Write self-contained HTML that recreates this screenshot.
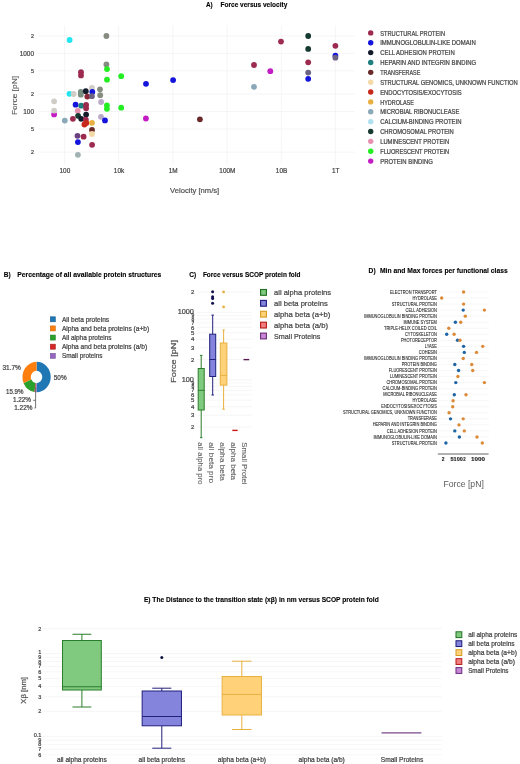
<!DOCTYPE html>
<html><head><meta charset="utf-8"><style>
html,body{margin:0;padding:0;background:#fff;}
body{width:520px;height:764px;overflow:hidden;}
svg{display:block;font-family:"Liberation Sans", sans-serif;will-change:transform;}
</style></head><body>
<svg width="520" height="764" viewBox="0 0 520 764">
<rect width="520" height="764" fill="#fff"/>
<text x="206.00" y="7.20" font-size="7.2" fill="#000" font-weight="bold" stroke="#000" stroke-width="0.12" textLength="6.70" lengthAdjust="spacingAndGlyphs">A)</text>
<text x="220.50" y="7.20" font-size="7.2" fill="#000" font-weight="bold" stroke="#000" stroke-width="0.12" textLength="66.80" lengthAdjust="spacingAndGlyphs">Force versus velocity</text>
<line x1="38" y1="35.91" x2="354.6" y2="35.91" stroke="#f2f2f2" stroke-width="0.8"/>
<line x1="38" y1="53.40" x2="354.6" y2="53.40" stroke="#f2f2f2" stroke-width="0.8"/>
<line x1="38" y1="70.89" x2="354.6" y2="70.89" stroke="#f2f2f2" stroke-width="0.8"/>
<line x1="38" y1="94.01" x2="354.6" y2="94.01" stroke="#f2f2f2" stroke-width="0.8"/>
<line x1="38" y1="111.50" x2="354.6" y2="111.50" stroke="#f2f2f2" stroke-width="0.8"/>
<line x1="38" y1="128.99" x2="354.6" y2="128.99" stroke="#f2f2f2" stroke-width="0.8"/>
<line x1="38" y1="152.11" x2="354.6" y2="152.11" stroke="#f2f2f2" stroke-width="0.8"/>
<line x1="64.60" y1="25.4" x2="64.60" y2="164" stroke="#f2f2f2" stroke-width="0.8"/>
<line x1="118.76" y1="25.4" x2="118.76" y2="164" stroke="#f2f2f2" stroke-width="0.8"/>
<line x1="172.92" y1="25.4" x2="172.92" y2="164" stroke="#f2f2f2" stroke-width="0.8"/>
<line x1="227.08" y1="25.4" x2="227.08" y2="164" stroke="#f2f2f2" stroke-width="0.8"/>
<line x1="281.24" y1="25.4" x2="281.24" y2="164" stroke="#f2f2f2" stroke-width="0.8"/>
<line x1="335.40" y1="25.4" x2="335.40" y2="164" stroke="#f2f2f2" stroke-width="0.8"/>
<text x="34.00" y="37.91" font-size="5.6" fill="#444" text-anchor="end" stroke="#444" stroke-width="0.22" textLength="2.96" lengthAdjust="spacingAndGlyphs">2</text>
<text x="34.00" y="55.95" font-size="7" fill="#444" text-anchor="end" stroke="#444" stroke-width="0.22" textLength="14.32" lengthAdjust="spacingAndGlyphs">1000</text>
<text x="34.00" y="72.89" font-size="5.6" fill="#444" text-anchor="end" stroke="#444" stroke-width="0.22" textLength="2.96" lengthAdjust="spacingAndGlyphs">5</text>
<text x="34.00" y="96.01" font-size="5.6" fill="#444" text-anchor="end" stroke="#444" stroke-width="0.22" textLength="2.96" lengthAdjust="spacingAndGlyphs">2</text>
<text x="34.00" y="114.05" font-size="7" fill="#444" text-anchor="end" stroke="#444" stroke-width="0.22" textLength="10.74" lengthAdjust="spacingAndGlyphs">100</text>
<text x="34.00" y="130.99" font-size="5.6" fill="#444" text-anchor="end" stroke="#444" stroke-width="0.22" textLength="2.96" lengthAdjust="spacingAndGlyphs">5</text>
<text x="34.00" y="154.11" font-size="5.6" fill="#444" text-anchor="end" stroke="#444" stroke-width="0.22" textLength="2.96" lengthAdjust="spacingAndGlyphs">2</text>
<text x="64.90" y="173.10" font-size="7" fill="#444" text-anchor="middle" stroke="#444" stroke-width="0.22" textLength="10.74" lengthAdjust="spacingAndGlyphs">100</text>
<text x="119.06" y="173.10" font-size="7" fill="#444" text-anchor="middle" stroke="#444" stroke-width="0.22" textLength="10.38" lengthAdjust="spacingAndGlyphs">10k</text>
<text x="173.22" y="173.10" font-size="7" fill="#444" text-anchor="middle" stroke="#444" stroke-width="0.22" textLength="8.95" lengthAdjust="spacingAndGlyphs">1M</text>
<text x="227.38" y="173.10" font-size="7" fill="#444" text-anchor="middle" stroke="#444" stroke-width="0.22" textLength="16.11" lengthAdjust="spacingAndGlyphs">100M</text>
<text x="281.54" y="173.10" font-size="7" fill="#444" text-anchor="middle" stroke="#444" stroke-width="0.22" textLength="11.46" lengthAdjust="spacingAndGlyphs">10B</text>
<text x="335.70" y="173.10" font-size="7" fill="#444" text-anchor="middle" stroke="#444" stroke-width="0.22" textLength="7.51" lengthAdjust="spacingAndGlyphs">1T</text>
<text x="170.10" y="193.20" font-size="7.5" fill="#555" stroke="#555" stroke-width="0.22" textLength="49.10" lengthAdjust="spacingAndGlyphs">Velocity [nm/s]</text>
<text x="0" y="0" font-size="7.3" fill="#555" stroke="#555" stroke-width="0.1" textLength="39.20" lengthAdjust="spacingAndGlyphs" transform="translate(17.10,115.10) rotate(-90)">Force [pN]</text>
<circle cx="54.1" cy="114.4" r="2.9" fill="#c41cc4"/>
<circle cx="54.1" cy="101.3" r="2.9" fill="#d0ccc6"/>
<circle cx="54.1" cy="110.6" r="2.9" fill="#d0ccc6"/>
<circle cx="69.6" cy="40" r="2.9" fill="#22e5f0"/>
<circle cx="106.4" cy="36" r="2.9" fill="#868b80"/>
<circle cx="106.4" cy="64.5" r="2.9" fill="#868b80"/>
<circle cx="107" cy="69.1" r="2.9" fill="#22ee22"/>
<circle cx="107" cy="79.7" r="2.9" fill="#22ee22"/>
<circle cx="121.2" cy="76.2" r="2.9" fill="#22ee22"/>
<circle cx="81" cy="72.2" r="2.9" fill="#9c2b4f"/>
<circle cx="81" cy="75.4" r="2.9" fill="#9c2b4f"/>
<circle cx="69.4" cy="93.8" r="2.9" fill="#22e5f0"/>
<circle cx="73.6" cy="94" r="2.9" fill="#d0ccc6"/>
<circle cx="80.8" cy="92" r="2.9" fill="#7a8e82"/>
<circle cx="80.8" cy="94.7" r="2.9" fill="#7a8e82"/>
<circle cx="85.8" cy="91.2" r="2.9" fill="#141c2c"/>
<circle cx="87.3" cy="96.6" r="2.9" fill="#8a2838"/>
<circle cx="91.9" cy="87.8" r="2.9" fill="#d0ccc6"/>
<circle cx="92.3" cy="92" r="2.9" fill="#1414dc"/>
<circle cx="91.9" cy="96.2" r="2.9" fill="#6c6282"/>
<circle cx="100" cy="89.3" r="2.9" fill="#868b80"/>
<circle cx="100.2" cy="95.2" r="2.9" fill="#868b80"/>
<circle cx="101.1" cy="102" r="2.9" fill="#b8aac8"/>
<circle cx="106.9" cy="105.3" r="2.9" fill="#22ee22"/>
<circle cx="106.9" cy="108.8" r="2.9" fill="#22ee22"/>
<circle cx="121.2" cy="107.7" r="2.9" fill="#22ee22"/>
<circle cx="75.6" cy="104.7" r="2.9" fill="#1414dc"/>
<circle cx="81.2" cy="105.7" r="2.9" fill="#1f7f7f"/>
<circle cx="86.1" cy="105" r="2.9" fill="#9c2b4f"/>
<circle cx="86.1" cy="108.3" r="2.9" fill="#9c2b4f"/>
<circle cx="77.7" cy="110.8" r="2.9" fill="#e890b0"/>
<circle cx="78.1" cy="115.8" r="2.9" fill="#163a30"/>
<circle cx="86.1" cy="114.6" r="2.9" fill="#141c2c"/>
<circle cx="81.2" cy="118.8" r="2.9" fill="#141c2c"/>
<circle cx="85.8" cy="119.6" r="2.9" fill="#9c2b4f"/>
<circle cx="86.3" cy="123" r="2.9" fill="#c8281c"/>
<circle cx="84.4" cy="124.5" r="2.9" fill="#c8281c"/>
<circle cx="92" cy="122.8" r="2.9" fill="#e8b040"/>
<circle cx="92" cy="130" r="2.9" fill="#6b2a2a"/>
<circle cx="92" cy="134" r="2.9" fill="#f2d9a6"/>
<circle cx="64.8" cy="120.6" r="2.9" fill="#8aa8b8"/>
<circle cx="72.9" cy="118.8" r="2.9" fill="#9c2b4f"/>
<circle cx="101" cy="116.8" r="2.9" fill="#b8aac8"/>
<circle cx="105" cy="120.4" r="2.9" fill="#1414dc"/>
<circle cx="77.5" cy="135.8" r="2.9" fill="#6a4080"/>
<circle cx="83.6" cy="136.7" r="2.9" fill="#9c2b4f"/>
<circle cx="77.9" cy="142.1" r="2.9" fill="#1414dc"/>
<circle cx="92.1" cy="144.8" r="2.9" fill="#9c2b4f"/>
<circle cx="77.9" cy="154.8" r="2.9" fill="#a0b2b2"/>
<circle cx="146" cy="83.8" r="2.9" fill="#1414dc"/>
<circle cx="173.1" cy="80.1" r="2.9" fill="#1414dc"/>
<circle cx="254" cy="65" r="2.9" fill="#9c2b4f"/>
<circle cx="270.3" cy="71.2" r="2.9" fill="#c41cc4"/>
<circle cx="254" cy="86.8" r="2.9" fill="#8aa8b8"/>
<circle cx="281" cy="41.6" r="2.9" fill="#9c2b4f"/>
<circle cx="308.2" cy="36" r="2.9" fill="#163a30"/>
<circle cx="308.2" cy="48.9" r="2.9" fill="#163a30"/>
<circle cx="308.2" cy="62.3" r="2.9" fill="#9c2b4f"/>
<circle cx="308.2" cy="72.6" r="2.9" fill="#6c6282"/>
<circle cx="308.2" cy="78.8" r="2.9" fill="#1414dc"/>
<circle cx="335.4" cy="45.8" r="2.9" fill="#9c2b4f"/>
<circle cx="335.4" cy="55.7" r="2.9" fill="#1414dc"/>
<circle cx="335.4" cy="57.7" r="2.9" fill="#6c6282"/>
<circle cx="145.9" cy="118.5" r="2.9" fill="#c41cc4"/>
<circle cx="199.9" cy="119.3" r="2.9" fill="#6b2a2a"/>
<circle cx="370.7" cy="32.90" r="2.7" fill="#9c2b4f"/>
<text x="380.20" y="35.60" font-size="6.5" fill="#444" stroke="#444" stroke-width="0.22" textLength="64.80" lengthAdjust="spacingAndGlyphs">STRUCTURAL PROTEIN</text>
<circle cx="370.7" cy="42.76" r="2.7" fill="#1414dc"/>
<text x="380.20" y="45.46" font-size="6.5" fill="#444" stroke="#444" stroke-width="0.22" textLength="95.50" lengthAdjust="spacingAndGlyphs">IMMUNOGLOBULIN-LIKE DOMAIN</text>
<circle cx="370.7" cy="52.62" r="2.7" fill="#141c2c"/>
<text x="380.20" y="55.32" font-size="6.5" fill="#444" stroke="#444" stroke-width="0.22" textLength="74.50" lengthAdjust="spacingAndGlyphs">CELL ADHESION PROTEIN</text>
<circle cx="370.7" cy="62.48" r="2.7" fill="#1f7f7f"/>
<text x="380.20" y="65.18" font-size="6.5" fill="#444" stroke="#444" stroke-width="0.22" textLength="96.00" lengthAdjust="spacingAndGlyphs">HEPARIN AND INTEGRIN BINDING</text>
<circle cx="370.7" cy="72.34" r="2.7" fill="#6b2a2a"/>
<text x="380.20" y="75.04" font-size="6.5" fill="#444" stroke="#444" stroke-width="0.22" textLength="40.10" lengthAdjust="spacingAndGlyphs">TRANSFERASE</text>
<circle cx="370.7" cy="82.20" r="2.7" fill="#f2d9a6"/>
<text x="380.20" y="84.90" font-size="6.5" fill="#444" stroke="#444" stroke-width="0.22" textLength="137.60" lengthAdjust="spacingAndGlyphs">STRUCTURAL GENOMICS, UNKNOWN FUNCTION</text>
<circle cx="370.7" cy="92.06" r="2.7" fill="#c8281c"/>
<text x="380.20" y="94.76" font-size="6.5" fill="#444" stroke="#444" stroke-width="0.22" textLength="81.50" lengthAdjust="spacingAndGlyphs">ENDOCYTOSIS/EXOCYTOSIS</text>
<circle cx="370.7" cy="101.92" r="2.7" fill="#e8b040"/>
<text x="380.20" y="104.62" font-size="6.5" fill="#444" stroke="#444" stroke-width="0.22" textLength="33.70" lengthAdjust="spacingAndGlyphs">HYDROLASE</text>
<circle cx="370.7" cy="111.78" r="2.7" fill="#8aa8b8"/>
<text x="380.20" y="114.48" font-size="6.5" fill="#444" stroke="#444" stroke-width="0.22" textLength="79.20" lengthAdjust="spacingAndGlyphs">MICROBIAL RIBONUCLEASE</text>
<circle cx="370.7" cy="121.64" r="2.7" fill="#b0e0ee"/>
<text x="380.20" y="124.34" font-size="6.5" fill="#444" stroke="#444" stroke-width="0.22" textLength="81.30" lengthAdjust="spacingAndGlyphs">CALCIUM-BINDING PROTEIN</text>
<circle cx="370.7" cy="131.50" r="2.7" fill="#163a30"/>
<text x="380.20" y="134.20" font-size="6.5" fill="#444" stroke="#444" stroke-width="0.22" textLength="73.60" lengthAdjust="spacingAndGlyphs">CHROMOSOMAL PROTEIN</text>
<circle cx="370.7" cy="141.36" r="2.7" fill="#e890b0"/>
<text x="380.20" y="144.06" font-size="6.5" fill="#444" stroke="#444" stroke-width="0.22" textLength="69.00" lengthAdjust="spacingAndGlyphs">LUMINESCENT PROTEIN</text>
<circle cx="370.7" cy="151.22" r="2.7" fill="#22ee22"/>
<text x="380.20" y="153.92" font-size="6.5" fill="#444" stroke="#444" stroke-width="0.22" textLength="69.00" lengthAdjust="spacingAndGlyphs">FLUORESCENT PROTEIN</text>
<circle cx="370.7" cy="161.08" r="2.7" fill="#c41cc4"/>
<text x="380.20" y="163.78" font-size="6.5" fill="#444" stroke="#444" stroke-width="0.22" textLength="52.70" lengthAdjust="spacingAndGlyphs">PROTEIN BINDING</text>
<text x="3.80" y="276.80" font-size="7.2" fill="#000" font-weight="bold" stroke="#000" stroke-width="0.12" textLength="6.90" lengthAdjust="spacingAndGlyphs">B)</text>
<text x="17.30" y="276.80" font-size="7.2" fill="#000" font-weight="bold" stroke="#000" stroke-width="0.12" textLength="144.00" lengthAdjust="spacingAndGlyphs">Percentage of all available protein structures</text>
<rect x="50.3" y="316.80" width="5" height="5" fill="#1f77b4" stroke="#1a5f90" stroke-width="0.6"/>
<text x="61.90" y="321.60" font-size="6.5" fill="#444" stroke="#444" stroke-width="0.22" textLength="47.20" lengthAdjust="spacingAndGlyphs">All beta proteins</text>
<rect x="50.3" y="325.93" width="5" height="5" fill="#ff7f0e" stroke="#d06a10" stroke-width="0.6"/>
<text x="61.90" y="330.73" font-size="6.5" fill="#444" stroke="#444" stroke-width="0.22" textLength="87.30" lengthAdjust="spacingAndGlyphs">Alpha and beta proteins (a+b)</text>
<rect x="50.3" y="335.06" width="5" height="5" fill="#2ca02c" stroke="#23802a" stroke-width="0.6"/>
<text x="61.90" y="339.86" font-size="6.5" fill="#444" stroke="#444" stroke-width="0.22" textLength="49.70" lengthAdjust="spacingAndGlyphs">All alpha proteins</text>
<rect x="50.3" y="344.19" width="5" height="5" fill="#d62728" stroke="#a82020" stroke-width="0.6"/>
<text x="61.90" y="348.99" font-size="6.5" fill="#444" stroke="#444" stroke-width="0.22" textLength="85.20" lengthAdjust="spacingAndGlyphs">Alpha and beta proteins (a/b)</text>
<rect x="50.3" y="353.32" width="5" height="5" fill="#9467bd" stroke="#7a55a0" stroke-width="0.6"/>
<text x="61.90" y="358.12" font-size="6.5" fill="#444" stroke="#444" stroke-width="0.22" textLength="40.60" lengthAdjust="spacingAndGlyphs">Small proteins</text>
<g transform="translate(36.55,377) scale(1,1.074)">
<path d="M0.00,14.15 A14.15,14.15 0 0 0 0.00,-14.15 L0.00,-5.75 A5.75,5.75 0 0 1 0.00,5.75 Z" fill="#1f77b4"/>
<path d="M0.00,-14.15 A14.15,14.15 0 0 0 -12.91,5.78 L-5.25,2.35 A5.75,5.75 0 0 1 0.00,-5.75 Z" fill="#ff7f0e"/>
<path d="M-12.91,5.78 A14.15,14.15 0 0 0 -2.13,13.99 L-0.86,5.68 A5.75,5.75 0 0 1 -5.25,2.35 Z" fill="#2ca02c"/>
<path d="M-2.13,13.99 A14.15,14.15 0 0 0 -1.05,14.11 L-0.43,5.73 A5.75,5.75 0 0 1 -0.86,5.68 Z" fill="#d62728"/>
<path d="M-1.05,14.11 A14.15,14.15 0 0 0 0.04,14.15 L0.01,5.75 A5.75,5.75 0 0 1 -0.43,5.73 Z" fill="#9467bd"/>
</g>
<text x="2.40" y="370.10" font-size="6.4" fill="#444" stroke="#444" stroke-width="0.22" textLength="18.50" lengthAdjust="spacingAndGlyphs">31.7%</text>
<text x="53.80" y="379.90" font-size="6.4" fill="#444" stroke="#444" stroke-width="0.22" textLength="12.80" lengthAdjust="spacingAndGlyphs">50%</text>
<text x="6.10" y="394.00" font-size="6.4" fill="#444" stroke="#444" stroke-width="0.22" textLength="17.40" lengthAdjust="spacingAndGlyphs">15.9%</text>
<text x="13.00" y="402.10" font-size="6.4" fill="#444" stroke="#444" stroke-width="0.22" textLength="18.00" lengthAdjust="spacingAndGlyphs">1.22%</text>
<text x="14.30" y="409.80" font-size="6.4" fill="#444" stroke="#444" stroke-width="0.22" textLength="18.10" lengthAdjust="spacingAndGlyphs">1.22%</text>
<path d="M35.6,388 L35.6,408 L34.3,408 M35.6,400.3 L33.2,400.3" stroke="#666" stroke-width="0.9" fill="none"/>
<text x="189.20" y="277.10" font-size="7.2" fill="#000" font-weight="bold" stroke="#000" stroke-width="0.12" textLength="6.90" lengthAdjust="spacingAndGlyphs">C)</text>
<text x="202.90" y="277.10" font-size="7.2" fill="#000" font-weight="bold" stroke="#000" stroke-width="0.12" textLength="97.60" lengthAdjust="spacingAndGlyphs">Force versus SCOP protein fold</text>
<line x1="197" y1="292.08" x2="252" y2="292.08" stroke="#f2f2f2" stroke-width="0.7"/>
<line x1="197" y1="312.40" x2="252" y2="312.40" stroke="#f2f2f2" stroke-width="0.7"/>
<line x1="197" y1="315.49" x2="252" y2="315.49" stroke="#f2f2f2" stroke-width="0.7"/>
<line x1="197" y1="318.94" x2="252" y2="318.94" stroke="#f2f2f2" stroke-width="0.7"/>
<line x1="197" y1="322.86" x2="252" y2="322.86" stroke="#f2f2f2" stroke-width="0.7"/>
<line x1="197" y1="327.37" x2="252" y2="327.37" stroke="#f2f2f2" stroke-width="0.7"/>
<line x1="197" y1="332.72" x2="252" y2="332.72" stroke="#f2f2f2" stroke-width="0.7"/>
<line x1="197" y1="339.26" x2="252" y2="339.26" stroke="#f2f2f2" stroke-width="0.7"/>
<line x1="197" y1="347.69" x2="252" y2="347.69" stroke="#f2f2f2" stroke-width="0.7"/>
<line x1="197" y1="359.58" x2="252" y2="359.58" stroke="#f2f2f2" stroke-width="0.7"/>
<line x1="197" y1="379.90" x2="252" y2="379.90" stroke="#f2f2f2" stroke-width="0.7"/>
<line x1="197" y1="382.99" x2="252" y2="382.99" stroke="#f2f2f2" stroke-width="0.7"/>
<line x1="197" y1="386.44" x2="252" y2="386.44" stroke="#f2f2f2" stroke-width="0.7"/>
<line x1="197" y1="390.36" x2="252" y2="390.36" stroke="#f2f2f2" stroke-width="0.7"/>
<line x1="197" y1="394.87" x2="252" y2="394.87" stroke="#f2f2f2" stroke-width="0.7"/>
<line x1="197" y1="400.22" x2="252" y2="400.22" stroke="#f2f2f2" stroke-width="0.7"/>
<line x1="197" y1="406.76" x2="252" y2="406.76" stroke="#f2f2f2" stroke-width="0.7"/>
<line x1="197" y1="415.19" x2="252" y2="415.19" stroke="#f2f2f2" stroke-width="0.7"/>
<line x1="197" y1="427.08" x2="252" y2="427.08" stroke="#f2f2f2" stroke-width="0.7"/>
<text x="194.40" y="294.24" font-size="6" fill="#444" text-anchor="end" stroke="#444" stroke-width="0.22">2</text>
<text x="193.90" y="314.03" font-size="7.3" fill="#444" text-anchor="end" stroke="#444" stroke-width="0.22">1000</text>
<text x="194.40" y="317.29" font-size="5" fill="#444" text-anchor="end" stroke="#444" stroke-width="0.22">9</text>
<text x="194.40" y="320.74" font-size="5" fill="#444" text-anchor="end" stroke="#444" stroke-width="0.22">8</text>
<text x="194.40" y="324.66" font-size="5" fill="#444" text-anchor="end" stroke="#444" stroke-width="0.22">7</text>
<text x="194.40" y="329.53" font-size="6" fill="#444" text-anchor="end" stroke="#444" stroke-width="0.22">6</text>
<text x="194.40" y="334.88" font-size="6" fill="#444" text-anchor="end" stroke="#444" stroke-width="0.22">5</text>
<text x="194.40" y="341.42" font-size="6" fill="#444" text-anchor="end" stroke="#444" stroke-width="0.22">4</text>
<text x="194.40" y="349.85" font-size="6" fill="#444" text-anchor="end" stroke="#444" stroke-width="0.22">3</text>
<text x="194.40" y="361.74" font-size="6" fill="#444" text-anchor="end" stroke="#444" stroke-width="0.22">2</text>
<text x="193.90" y="381.53" font-size="7.3" fill="#444" text-anchor="end" stroke="#444" stroke-width="0.22">100</text>
<text x="194.40" y="384.79" font-size="5" fill="#444" text-anchor="end" stroke="#444" stroke-width="0.22">9</text>
<text x="194.40" y="388.24" font-size="5" fill="#444" text-anchor="end" stroke="#444" stroke-width="0.22">8</text>
<text x="194.40" y="392.16" font-size="5" fill="#444" text-anchor="end" stroke="#444" stroke-width="0.22">7</text>
<text x="194.40" y="397.03" font-size="6" fill="#444" text-anchor="end" stroke="#444" stroke-width="0.22">6</text>
<text x="194.40" y="402.38" font-size="6" fill="#444" text-anchor="end" stroke="#444" stroke-width="0.22">5</text>
<text x="194.40" y="408.92" font-size="6" fill="#444" text-anchor="end" stroke="#444" stroke-width="0.22">4</text>
<text x="194.40" y="417.35" font-size="6" fill="#444" text-anchor="end" stroke="#444" stroke-width="0.22">3</text>
<text x="194.40" y="429.24" font-size="6" fill="#444" text-anchor="end" stroke="#444" stroke-width="0.22">2</text>
<text x="0" y="0" font-size="7.5" fill="#555" stroke="#555" stroke-width="0.22" textLength="42.80" lengthAdjust="spacingAndGlyphs" transform="translate(175.80,382.80) rotate(-90)">Force [pN]</text>
<line x1="201.2" y1="355.4" x2="201.2" y2="368.5" stroke="#2a7d2a" stroke-width="1"/>
<line x1="201.2" y1="410" x2="201.2" y2="437.7" stroke="#2a7d2a" stroke-width="1"/>
<line x1="199.95" y1="355.4" x2="202.45" y2="355.4" stroke="#2a7d2a" stroke-width="1"/>
<line x1="199.95" y1="437.7" x2="202.45" y2="437.7" stroke="#2a7d2a" stroke-width="1"/>
<rect x="198.2" y="368.5" width="6" height="41.5" fill="#80ca80" stroke="#2a7d2a" stroke-width="1"/>
<line x1="198.2" y1="390.3" x2="204.2" y2="390.3" stroke="#2a7d2a" stroke-width="1"/>
<line x1="212.7" y1="315.1" x2="212.7" y2="334.2" stroke="#20207e" stroke-width="1"/>
<line x1="212.7" y1="376.5" x2="212.7" y2="395" stroke="#20207e" stroke-width="1"/>
<line x1="211.45" y1="315.1" x2="213.95" y2="315.1" stroke="#20207e" stroke-width="1"/>
<line x1="211.45" y1="395" x2="213.95" y2="395" stroke="#20207e" stroke-width="1"/>
<rect x="209.7" y="334.2" width="6" height="42.30000000000001" fill="#8484dc" stroke="#20207e" stroke-width="1"/>
<line x1="209.7" y1="359.5" x2="215.7" y2="359.5" stroke="#20207e" stroke-width="1"/>
<line x1="223.6" y1="330" x2="223.6" y2="343" stroke="#e8b040" stroke-width="1"/>
<line x1="223.6" y1="385.1" x2="223.6" y2="409.2" stroke="#e8b040" stroke-width="1"/>
<line x1="222.35" y1="330" x2="224.85" y2="330" stroke="#e8b040" stroke-width="1"/>
<line x1="222.35" y1="409.2" x2="224.85" y2="409.2" stroke="#e8b040" stroke-width="1"/>
<rect x="220.29999999999998" y="343" width="6.6" height="42.10000000000002" fill="#ffd27a" stroke="#e8b040" stroke-width="1"/>
<line x1="220.29999999999998" y1="375.4" x2="226.89999999999998" y2="375.4" stroke="#e8b040" stroke-width="1"/>
<circle cx="212.6" cy="291.8" r="1.5" fill="#101050"/>
<circle cx="212.6" cy="296.8" r="1.5" fill="#101050"/>
<circle cx="212.6" cy="298.5" r="1.5" fill="#101050"/>
<circle cx="212.6" cy="303.2" r="1.5" fill="#101050"/>
<circle cx="223.6" cy="291.9" r="1.4" fill="#e8b040"/>
<circle cx="223.6" cy="306.9" r="1.4" fill="#e8b040"/>
<line x1="232.3" y1="430.4" x2="237.7" y2="430.4" stroke="#c81818" stroke-width="1.4"/>
<line x1="243.5" y1="359.6" x2="249.2" y2="359.6" stroke="#5a1a50" stroke-width="1.4"/>
<text x="0" y="0" font-size="7.4" fill="#606060" stroke="#606060" stroke-width="0.1" textLength="42.30" lengthAdjust="spacingAndGlyphs" transform="translate(198.10,442.30) rotate(90)">all alpha pro</text>
<text x="0" y="0" font-size="7.4" fill="#606060" stroke="#606060" stroke-width="0.1" textLength="40.70" lengthAdjust="spacingAndGlyphs" transform="translate(208.80,442.30) rotate(90)">all beta pro</text>
<text x="0" y="0" font-size="7.4" fill="#606060" stroke="#606060" stroke-width="0.1" textLength="38.50" lengthAdjust="spacingAndGlyphs" transform="translate(220.00,442.30) rotate(90)">alpha beta</text>
<text x="0" y="0" font-size="7.4" fill="#606060" stroke="#606060" stroke-width="0.1" textLength="37.70" lengthAdjust="spacingAndGlyphs" transform="translate(231.20,442.30) rotate(90)">alpha beta</text>
<text x="0" y="0" font-size="7.4" fill="#606060" stroke="#606060" stroke-width="0.1" textLength="42.30" lengthAdjust="spacingAndGlyphs" transform="translate(242.30,442.30) rotate(90)">Small Protei</text>
<rect x="260.6" y="289.50" width="5.8" height="5.8" fill="#80ca80" stroke="#1e6e1e" stroke-width="1.1"/>
<text x="274.00" y="295.20" font-size="7.8" fill="#444" stroke="#444" stroke-width="0.22" textLength="57.10" lengthAdjust="spacingAndGlyphs">all alpha proteins</text>
<rect x="260.6" y="300.40" width="5.8" height="5.8" fill="#8484dc" stroke="#1a1a7a" stroke-width="1.1"/>
<text x="274.00" y="306.10" font-size="7.8" fill="#444" stroke="#444" stroke-width="0.22" textLength="53.70" lengthAdjust="spacingAndGlyphs">all beta proteins</text>
<rect x="260.6" y="311.30" width="5.8" height="5.8" fill="#ffd27a" stroke="#d89a20" stroke-width="1.1"/>
<text x="274.00" y="317.00" font-size="7.8" fill="#444" stroke="#444" stroke-width="0.22" textLength="56.30" lengthAdjust="spacingAndGlyphs">alpha beta (a+b)</text>
<rect x="260.6" y="322.20" width="5.8" height="5.8" fill="#f08080" stroke="#b81818" stroke-width="1.1"/>
<text x="274.00" y="327.90" font-size="7.8" fill="#444" stroke="#444" stroke-width="0.22" textLength="54.00" lengthAdjust="spacingAndGlyphs">alpha beta (a/b)</text>
<rect x="260.6" y="333.10" width="5.8" height="5.8" fill="#c888d8" stroke="#6a2a7a" stroke-width="1.1"/>
<text x="274.00" y="338.80" font-size="7.8" fill="#444" stroke="#444" stroke-width="0.22" textLength="46.40" lengthAdjust="spacingAndGlyphs">Small Proteins</text>
<text x="368.60" y="272.80" font-size="7.4" fill="#000" font-weight="bold" stroke="#000" stroke-width="0.12" textLength="7.00" lengthAdjust="spacingAndGlyphs">D)</text>
<text x="380.00" y="272.80" font-size="7.4" fill="#000" font-weight="bold" stroke="#000" stroke-width="0.12" textLength="127.70" lengthAdjust="spacingAndGlyphs">Min and Max forces per functional class</text>
<line x1="439" y1="292.00" x2="489" y2="292.00" stroke="#f2f2f2" stroke-width="0.6"/>
<line x1="439" y1="298.04" x2="489" y2="298.04" stroke="#f2f2f2" stroke-width="0.6"/>
<line x1="439" y1="304.08" x2="489" y2="304.08" stroke="#f2f2f2" stroke-width="0.6"/>
<line x1="439" y1="310.12" x2="489" y2="310.12" stroke="#f2f2f2" stroke-width="0.6"/>
<line x1="439" y1="316.16" x2="489" y2="316.16" stroke="#f2f2f2" stroke-width="0.6"/>
<line x1="439" y1="322.20" x2="489" y2="322.20" stroke="#f2f2f2" stroke-width="0.6"/>
<line x1="439" y1="328.24" x2="489" y2="328.24" stroke="#f2f2f2" stroke-width="0.6"/>
<line x1="439" y1="334.28" x2="489" y2="334.28" stroke="#f2f2f2" stroke-width="0.6"/>
<line x1="439" y1="340.32" x2="489" y2="340.32" stroke="#f2f2f2" stroke-width="0.6"/>
<line x1="439" y1="346.36" x2="489" y2="346.36" stroke="#f2f2f2" stroke-width="0.6"/>
<line x1="439" y1="352.40" x2="489" y2="352.40" stroke="#f2f2f2" stroke-width="0.6"/>
<line x1="439" y1="358.44" x2="489" y2="358.44" stroke="#f2f2f2" stroke-width="0.6"/>
<line x1="439" y1="364.48" x2="489" y2="364.48" stroke="#f2f2f2" stroke-width="0.6"/>
<line x1="439" y1="370.52" x2="489" y2="370.52" stroke="#f2f2f2" stroke-width="0.6"/>
<line x1="439" y1="376.56" x2="489" y2="376.56" stroke="#f2f2f2" stroke-width="0.6"/>
<line x1="439" y1="382.60" x2="489" y2="382.60" stroke="#f2f2f2" stroke-width="0.6"/>
<line x1="439" y1="388.64" x2="489" y2="388.64" stroke="#f2f2f2" stroke-width="0.6"/>
<line x1="439" y1="394.68" x2="489" y2="394.68" stroke="#f2f2f2" stroke-width="0.6"/>
<line x1="439" y1="400.72" x2="489" y2="400.72" stroke="#f2f2f2" stroke-width="0.6"/>
<line x1="439" y1="406.76" x2="489" y2="406.76" stroke="#f2f2f2" stroke-width="0.6"/>
<line x1="439" y1="412.80" x2="489" y2="412.80" stroke="#f2f2f2" stroke-width="0.6"/>
<line x1="439" y1="418.84" x2="489" y2="418.84" stroke="#f2f2f2" stroke-width="0.6"/>
<line x1="439" y1="424.88" x2="489" y2="424.88" stroke="#f2f2f2" stroke-width="0.6"/>
<line x1="439" y1="430.92" x2="489" y2="430.92" stroke="#f2f2f2" stroke-width="0.6"/>
<line x1="439" y1="436.96" x2="489" y2="436.96" stroke="#f2f2f2" stroke-width="0.6"/>
<line x1="439" y1="443.00" x2="489" y2="443.00" stroke="#f2f2f2" stroke-width="0.6"/>
<text x="436.90" y="293.60" font-size="4.5" fill="#222" text-anchor="end" stroke="#222" stroke-width="0.08" textLength="46.94" lengthAdjust="spacingAndGlyphs">ELECTRON TRANSPORT</text>
<circle cx="463.6" cy="292.00" r="1.7" fill="#dc8a38"/>
<text x="436.90" y="299.64" font-size="4.5" fill="#222" text-anchor="end" stroke="#222" stroke-width="0.08" textLength="24.43" lengthAdjust="spacingAndGlyphs">HYDROLASE</text>
<circle cx="441.7" cy="298.04" r="1.7" fill="#dc8a38"/>
<text x="436.90" y="305.68" font-size="4.5" fill="#222" text-anchor="end" stroke="#222" stroke-width="0.08" textLength="45.18" lengthAdjust="spacingAndGlyphs">STRUCTURAL PROTEIN</text>
<circle cx="463.6" cy="304.08" r="1.7" fill="#dc8a38"/>
<text x="436.90" y="311.72" font-size="4.5" fill="#222" text-anchor="end" stroke="#222" stroke-width="0.08" textLength="31.32" lengthAdjust="spacingAndGlyphs">CELL ADHESION</text>
<circle cx="463.2" cy="310.12" r="1.7" fill="#1f65a5"/>
<circle cx="484.4" cy="310.12" r="1.7" fill="#dc8a38"/>
<text x="436.90" y="317.76" font-size="4.5" fill="#222" text-anchor="end" stroke="#222" stroke-width="0.08" textLength="72.83" lengthAdjust="spacingAndGlyphs">IMMUNOGLOBULIN BINDING PROTEIN</text>
<circle cx="465.3" cy="316.16" r="1.7" fill="#dc8a38"/>
<text x="436.90" y="323.80" font-size="4.5" fill="#222" text-anchor="end" stroke="#222" stroke-width="0.08" textLength="33.44" lengthAdjust="spacingAndGlyphs">IMMUNE SYSTEM</text>
<circle cx="455.4" cy="322.20" r="1.7" fill="#1f65a5"/>
<circle cx="460.7" cy="322.20" r="1.7" fill="#dc8a38"/>
<text x="436.90" y="329.84" font-size="4.5" fill="#222" text-anchor="end" stroke="#222" stroke-width="0.08" textLength="52.81" lengthAdjust="spacingAndGlyphs">TRIPLE-HELIX COILED COIL</text>
<circle cx="448.8" cy="328.24" r="1.7" fill="#dc8a38"/>
<text x="436.90" y="335.88" font-size="4.5" fill="#222" text-anchor="end" stroke="#222" stroke-width="0.08" textLength="31.98" lengthAdjust="spacingAndGlyphs">CYTOSKELETON</text>
<circle cx="446.7" cy="334.28" r="1.7" fill="#1f65a5"/>
<circle cx="454.1" cy="334.28" r="1.7" fill="#dc8a38"/>
<text x="436.90" y="341.92" font-size="4.5" fill="#222" text-anchor="end" stroke="#222" stroke-width="0.08" textLength="35.94" lengthAdjust="spacingAndGlyphs">PHOTORECEPTOR</text>
<circle cx="457.5" cy="340.32" r="1.7" fill="#1f65a5"/>
<circle cx="460" cy="340.32" r="1.7" fill="#dc8a38"/>
<text x="436.90" y="347.96" font-size="4.5" fill="#222" text-anchor="end" stroke="#222" stroke-width="0.08" textLength="12.18" lengthAdjust="spacingAndGlyphs">LYASE</text>
<circle cx="463.6" cy="346.36" r="1.7" fill="#1f65a5"/>
<circle cx="482.7" cy="346.36" r="1.7" fill="#dc8a38"/>
<text x="436.90" y="354.00" font-size="4.5" fill="#222" text-anchor="end" stroke="#222" stroke-width="0.08" textLength="18.04" lengthAdjust="spacingAndGlyphs">COHESIN</text>
<circle cx="464.3" cy="352.40" r="1.7" fill="#1f65a5"/>
<circle cx="476.5" cy="352.40" r="1.7" fill="#dc8a38"/>
<text x="436.90" y="360.04" font-size="4.5" fill="#222" text-anchor="end" stroke="#222" stroke-width="0.08" textLength="72.83" lengthAdjust="spacingAndGlyphs">IMMUNOGLOBULIN BINDING PROTEIN</text>
<circle cx="463.2" cy="358.44" r="1.7" fill="#dc8a38"/>
<text x="436.90" y="366.08" font-size="4.5" fill="#222" text-anchor="end" stroke="#222" stroke-width="0.08" textLength="35.20" lengthAdjust="spacingAndGlyphs">PROTEIN BINDING</text>
<circle cx="454.8" cy="364.48" r="1.7" fill="#1f65a5"/>
<circle cx="471.7" cy="364.48" r="1.7" fill="#dc8a38"/>
<text x="436.90" y="372.12" font-size="4.5" fill="#222" text-anchor="end" stroke="#222" stroke-width="0.08" textLength="48.11" lengthAdjust="spacingAndGlyphs">FLUORESCENT PROTEIN</text>
<circle cx="458.6" cy="370.52" r="1.7" fill="#1f65a5"/>
<circle cx="472.7" cy="370.52" r="1.7" fill="#dc8a38"/>
<text x="436.90" y="378.16" font-size="4.5" fill="#222" text-anchor="end" stroke="#222" stroke-width="0.08" textLength="47.01" lengthAdjust="spacingAndGlyphs">LUMINESCENT PROTEIN</text>
<circle cx="457.9" cy="376.56" r="1.7" fill="#dc8a38"/>
<text x="436.90" y="384.20" font-size="4.5" fill="#222" text-anchor="end" stroke="#222" stroke-width="0.08" textLength="50.46" lengthAdjust="spacingAndGlyphs">CHROMOSOMAL PROTEIN</text>
<circle cx="455.8" cy="382.60" r="1.7" fill="#1f65a5"/>
<circle cx="484.4" cy="382.60" r="1.7" fill="#dc8a38"/>
<text x="436.90" y="390.24" font-size="4.5" fill="#222" text-anchor="end" stroke="#222" stroke-width="0.08" textLength="54.34" lengthAdjust="spacingAndGlyphs">CALCIUM-BINDING PROTEIN</text>
<text x="436.90" y="396.28" font-size="4.5" fill="#222" text-anchor="end" stroke="#222" stroke-width="0.08" textLength="53.77" lengthAdjust="spacingAndGlyphs">MICROBIAL RIBONUCLEASE</text>
<circle cx="454.3" cy="394.68" r="1.7" fill="#1f65a5"/>
<circle cx="466" cy="394.68" r="1.7" fill="#dc8a38"/>
<text x="436.90" y="402.32" font-size="4.5" fill="#222" text-anchor="end" stroke="#222" stroke-width="0.08" textLength="24.43" lengthAdjust="spacingAndGlyphs">HYDROLASE</text>
<circle cx="453.1" cy="400.72" r="1.7" fill="#dc8a38"/>
<text x="436.90" y="408.36" font-size="4.5" fill="#222" text-anchor="end" stroke="#222" stroke-width="0.08" textLength="55.53" lengthAdjust="spacingAndGlyphs">ENDOCYTOSIS/EXOCYTOSIS</text>
<circle cx="452.7" cy="406.76" r="1.7" fill="#dc8a38"/>
<text x="436.90" y="414.40" font-size="4.5" fill="#222" text-anchor="end" stroke="#222" stroke-width="0.08" textLength="93.79" lengthAdjust="spacingAndGlyphs">STRUCTURAL GENOMICS, UNKNOWN FUNCTION</text>
<circle cx="449.1" cy="412.80" r="1.7" fill="#dc8a38"/>
<text x="436.90" y="420.44" font-size="4.5" fill="#222" text-anchor="end" stroke="#222" stroke-width="0.08" textLength="29.27" lengthAdjust="spacingAndGlyphs">TRANSFERASE</text>
<circle cx="450.5" cy="418.84" r="1.7" fill="#1f65a5"/>
<circle cx="463.2" cy="418.84" r="1.7" fill="#dc8a38"/>
<text x="436.90" y="426.48" font-size="4.5" fill="#222" text-anchor="end" stroke="#222" stroke-width="0.08" textLength="64.17" lengthAdjust="spacingAndGlyphs">HEPARIN AND INTEGRIN BINDING</text>
<circle cx="459" cy="424.88" r="1.7" fill="#dc8a38"/>
<text x="436.90" y="432.52" font-size="4.5" fill="#222" text-anchor="end" stroke="#222" stroke-width="0.08" textLength="50.03" lengthAdjust="spacingAndGlyphs">CELL ADHESION PROTEIN</text>
<circle cx="454.8" cy="430.92" r="1.7" fill="#1f65a5"/>
<circle cx="464.3" cy="430.92" r="1.7" fill="#dc8a38"/>
<text x="436.90" y="438.56" font-size="4.5" fill="#222" text-anchor="end" stroke="#222" stroke-width="0.08" textLength="63.37" lengthAdjust="spacingAndGlyphs">IMMUNOGLOBULIN-LIKE DOMAIN</text>
<circle cx="459.4" cy="436.96" r="1.7" fill="#1f65a5"/>
<circle cx="477" cy="436.96" r="1.7" fill="#dc8a38"/>
<text x="436.90" y="444.60" font-size="4.5" fill="#222" text-anchor="end" stroke="#222" stroke-width="0.08" textLength="45.18" lengthAdjust="spacingAndGlyphs">STRUCTURAL PROTEIN</text>
<circle cx="445.9" cy="443.00" r="1.7" fill="#1f65a5"/>
<circle cx="482.3" cy="443.00" r="1.7" fill="#dc8a38"/>
<line x1="437.8" y1="454" x2="488.6" y2="454" stroke="#666" stroke-width="1"/>
<text x="443.00" y="461.00" font-size="4.8" fill="#222" text-anchor="middle" font-weight="bold" stroke="#222" stroke-width="0.12">2</text>
<text x="450.50" y="461.00" font-size="4.8" fill="#222" font-weight="bold" stroke="#222" stroke-width="0.12" textLength="12.30" lengthAdjust="spacingAndGlyphs">5100</text>
<text x="463.20" y="461.00" font-size="4.8" fill="#222" font-weight="bold" stroke="#222" stroke-width="0.12" textLength="2.40" lengthAdjust="spacingAndGlyphs">2</text>
<text x="471.00" y="461.00" font-size="4.8" fill="#222" font-weight="bold" stroke="#222" stroke-width="0.12" textLength="14.00" lengthAdjust="spacingAndGlyphs">1000</text>
<text x="443.50" y="487.30" font-size="8.8" fill="#5a5a5a" textLength="40.30" lengthAdjust="spacingAndGlyphs">Force [pN]</text>
<text x="143.90" y="602.00" font-size="7.2" fill="#000" font-weight="bold" stroke="#000" stroke-width="0.12" textLength="234.85" lengthAdjust="spacingAndGlyphs">E) The Distance to the transition state (xβ) in nm versus SCOP protein fold</text>
<line x1="42.5" y1="628.54" x2="441.6" y2="628.54" stroke="#f2f2f2" stroke-width="0.7"/>
<line x1="42.5" y1="653.50" x2="441.6" y2="653.50" stroke="#f2f2f2" stroke-width="0.7"/>
<line x1="42.5" y1="657.29" x2="441.6" y2="657.29" stroke="#f2f2f2" stroke-width="0.7"/>
<line x1="42.5" y1="661.53" x2="441.6" y2="661.53" stroke="#f2f2f2" stroke-width="0.7"/>
<line x1="42.5" y1="666.34" x2="441.6" y2="666.34" stroke="#f2f2f2" stroke-width="0.7"/>
<line x1="42.5" y1="671.89" x2="441.6" y2="671.89" stroke="#f2f2f2" stroke-width="0.7"/>
<line x1="42.5" y1="678.46" x2="441.6" y2="678.46" stroke="#f2f2f2" stroke-width="0.7"/>
<line x1="42.5" y1="686.49" x2="441.6" y2="686.49" stroke="#f2f2f2" stroke-width="0.7"/>
<line x1="42.5" y1="696.85" x2="441.6" y2="696.85" stroke="#f2f2f2" stroke-width="0.7"/>
<line x1="42.5" y1="711.44" x2="441.6" y2="711.44" stroke="#f2f2f2" stroke-width="0.7"/>
<line x1="42.5" y1="736.40" x2="441.6" y2="736.40" stroke="#f2f2f2" stroke-width="0.7"/>
<line x1="42.5" y1="740.19" x2="441.6" y2="740.19" stroke="#f2f2f2" stroke-width="0.7"/>
<line x1="42.5" y1="744.43" x2="441.6" y2="744.43" stroke="#f2f2f2" stroke-width="0.7"/>
<line x1="42.5" y1="749.24" x2="441.6" y2="749.24" stroke="#f2f2f2" stroke-width="0.7"/>
<line x1="42.5" y1="754.79" x2="441.6" y2="754.79" stroke="#f2f2f2" stroke-width="0.7"/>
<text x="41.40" y="630.54" font-size="5.5" fill="#444" text-anchor="end" stroke="#444" stroke-width="0.22">2</text>
<text x="41.40" y="654.00" font-size="5.5" fill="#444" text-anchor="end" stroke="#444" stroke-width="0.22">1</text>
<text x="41.40" y="659.29" font-size="5.5" fill="#444" text-anchor="end" stroke="#444" stroke-width="0.22">9</text>
<text x="41.40" y="663.53" font-size="5.5" fill="#444" text-anchor="end" stroke="#444" stroke-width="0.22">8</text>
<text x="41.40" y="668.34" font-size="5.5" fill="#444" text-anchor="end" stroke="#444" stroke-width="0.22">7</text>
<text x="41.40" y="673.89" font-size="5.5" fill="#444" text-anchor="end" stroke="#444" stroke-width="0.22">6</text>
<text x="41.40" y="680.46" font-size="5.5" fill="#444" text-anchor="end" stroke="#444" stroke-width="0.22">5</text>
<text x="41.40" y="688.49" font-size="5.5" fill="#444" text-anchor="end" stroke="#444" stroke-width="0.22">4</text>
<text x="41.40" y="698.85" font-size="5.5" fill="#444" text-anchor="end" stroke="#444" stroke-width="0.22">3</text>
<text x="41.40" y="713.44" font-size="5.5" fill="#444" text-anchor="end" stroke="#444" stroke-width="0.22">2</text>
<text x="41.40" y="736.90" font-size="5.5" fill="#444" text-anchor="end" stroke="#444" stroke-width="0.22">0.1</text>
<text x="41.40" y="742.19" font-size="5.5" fill="#444" text-anchor="end" stroke="#444" stroke-width="0.22">9</text>
<text x="41.40" y="746.43" font-size="5.5" fill="#444" text-anchor="end" stroke="#444" stroke-width="0.22">8</text>
<text x="41.40" y="751.24" font-size="5.5" fill="#444" text-anchor="end" stroke="#444" stroke-width="0.22">7</text>
<text x="41.40" y="756.79" font-size="5.5" fill="#444" text-anchor="end" stroke="#444" stroke-width="0.22">6</text>
<text x="0" y="0" font-size="7.5" fill="#555" stroke="#555" stroke-width="0.22" textLength="26.70" lengthAdjust="spacingAndGlyphs" transform="translate(26.20,703.70) rotate(-90)">Xβ [nm]</text>
<line x1="81.9" y1="634.25" x2="81.9" y2="640.5" stroke="#2a7d2a" stroke-width="1"/>
<line x1="81.9" y1="690" x2="81.9" y2="707" stroke="#2a7d2a" stroke-width="1"/>
<line x1="72.5" y1="634.25" x2="91.30000000000001" y2="634.25" stroke="#2a7d2a" stroke-width="1"/>
<line x1="72.5" y1="707" x2="91.30000000000001" y2="707" stroke="#2a7d2a" stroke-width="1"/>
<rect x="62.50000000000001" y="640.5" width="38.8" height="49.5" fill="#80ca80" stroke="#2a7d2a" stroke-width="1"/>
<line x1="62.50000000000001" y1="686.75" x2="101.30000000000001" y2="686.75" stroke="#2a7d2a" stroke-width="1"/>
<line x1="161.8" y1="688.2" x2="161.8" y2="691" stroke="#20207e" stroke-width="1"/>
<line x1="161.8" y1="725.8" x2="161.8" y2="748.2" stroke="#20207e" stroke-width="1"/>
<line x1="152.25" y1="688.2" x2="171.35000000000002" y2="688.2" stroke="#20207e" stroke-width="1"/>
<line x1="152.25" y1="748.2" x2="171.35000000000002" y2="748.2" stroke="#20207e" stroke-width="1"/>
<rect x="142.15" y="691" width="39.3" height="34.799999999999955" fill="#8484dc" stroke="#20207e" stroke-width="1"/>
<line x1="142.15" y1="716.5" x2="181.45" y2="716.5" stroke="#20207e" stroke-width="1"/>
<circle cx="161.8" cy="657.5" r="1.5" fill="#101040"/>
<line x1="241.8" y1="661.2" x2="241.8" y2="676.5" stroke="#e8b040" stroke-width="1"/>
<line x1="241.8" y1="715" x2="241.8" y2="729.5" stroke="#e8b040" stroke-width="1"/>
<line x1="232.10000000000002" y1="661.2" x2="251.5" y2="661.2" stroke="#e8b040" stroke-width="1"/>
<line x1="232.10000000000002" y1="729.5" x2="251.5" y2="729.5" stroke="#e8b040" stroke-width="1"/>
<rect x="222.15" y="676.5" width="39.3" height="38.5" fill="#ffd27a" stroke="#e8b040" stroke-width="1"/>
<line x1="222.15" y1="694.4" x2="261.45" y2="694.4" stroke="#e8b040" stroke-width="1"/>
<line x1="381.5" y1="732.8" x2="421.4" y2="732.8" stroke="#7a4a8a" stroke-width="1.3"/>
<text x="81.90" y="761.50" font-size="6.6" fill="#444" text-anchor="middle" stroke="#444" stroke-width="0.22">all alpha proteins</text>
<text x="161.80" y="761.50" font-size="6.6" fill="#444" text-anchor="middle" stroke="#444" stroke-width="0.22">all beta proteins</text>
<text x="241.90" y="761.50" font-size="6.6" fill="#444" text-anchor="middle" stroke="#444" stroke-width="0.22">alpha beta (a+b)</text>
<text x="321.70" y="761.50" font-size="6.6" fill="#444" text-anchor="middle" stroke="#444" stroke-width="0.22">alpha beta (a/b)</text>
<text x="402.00" y="761.50" font-size="6.6" fill="#444" text-anchor="middle" stroke="#444" stroke-width="0.22">Small Proteins</text>
<rect x="456" y="631.80" width="5.8" height="5.8" fill="#80ca80" stroke="#1e6e1e" stroke-width="1"/>
<text x="468.20" y="637.10" font-size="6.6" fill="#444" stroke="#444" stroke-width="0.22" textLength="49.10" lengthAdjust="spacingAndGlyphs">all alpha proteins</text>
<rect x="456" y="640.75" width="5.8" height="5.8" fill="#8484dc" stroke="#1a1a7a" stroke-width="1"/>
<text x="468.20" y="646.05" font-size="6.6" fill="#444" stroke="#444" stroke-width="0.22" textLength="46.40" lengthAdjust="spacingAndGlyphs">all beta proteins</text>
<rect x="456" y="649.70" width="5.8" height="5.8" fill="#ffd27a" stroke="#d89a20" stroke-width="1"/>
<text x="468.20" y="655.00" font-size="6.6" fill="#444" stroke="#444" stroke-width="0.22" textLength="48.70" lengthAdjust="spacingAndGlyphs">alpha beta (a+b)</text>
<rect x="456" y="658.65" width="5.8" height="5.8" fill="#f08080" stroke="#b81818" stroke-width="1"/>
<text x="468.20" y="663.95" font-size="6.6" fill="#444" stroke="#444" stroke-width="0.22" textLength="46.70" lengthAdjust="spacingAndGlyphs">alpha beta (a/b)</text>
<rect x="456" y="667.60" width="5.8" height="5.8" fill="#c888d8" stroke="#6a2a7a" stroke-width="1"/>
<text x="468.20" y="672.90" font-size="6.6" fill="#444" stroke="#444" stroke-width="0.22" textLength="40.30" lengthAdjust="spacingAndGlyphs">Small Proteins</text>
</svg>
</body></html>
